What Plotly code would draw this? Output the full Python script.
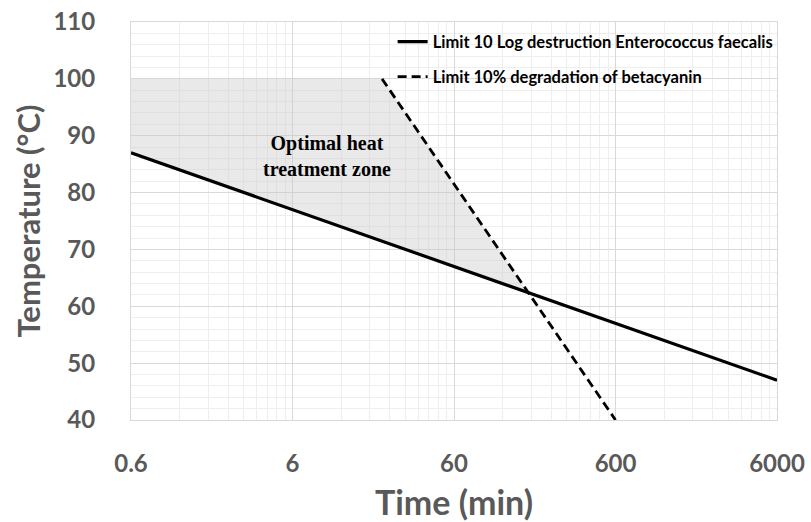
import numpy as np
import plotly.graph_objects as go

# Data
solid_time = [0.6, 6000]
solid_temp = [87, 47]
dash_time = [21.5, 600]
dash_temp = [100, 40]
zone_top = 100
x_ticks = [0.6, 6, 60, 600, 6000]
x_ticktext = ["0.6", "6", "60", "600", "6000"]
y_ticks = [40, 50, 60, 70, 80, 90, 100, 110]

# intersection of lines in log-x space
ls = np.log10(solid_time); ld = np.log10(dash_time)
ms = (solid_temp[1] - solid_temp[0]) / (ls[1] - ls[0])
md = (dash_temp[1] - dash_temp[0]) / (ld[1] - ld[0])
xi = (dash_temp[0] - solid_temp[0] + ms * ls[0] - md * ld[0]) / (ms - md)
ti = solid_temp[0] + ms * (xi - ls[0])
poly_x = [solid_time[0], dash_time[0], 10 ** xi, solid_time[0], solid_time[0]]
poly_y = [zone_top, dash_temp[0], ti, solid_temp[0], zone_top]

minor_x = [m * d for d in [0.6, 6, 60, 600] for m in range(2, 10)]
minor_y = list(range(42, 110, 2))

fig = go.Figure()
fig.add_trace(go.Scatter(x=poly_x, y=poly_y, fill="toself", mode="none",
                         fillcolor="rgba(200,200,200,0.4)", showlegend=False, hoverinfo="skip"))
fig.add_trace(go.Scatter(x=solid_time, y=solid_temp, mode="lines",
                         line=dict(color="black", width=3.2),
                         name="Limit 10 Log destruction Enterococcus faecalis", legend="legend"))
fig.add_trace(go.Scatter(x=dash_time, y=dash_temp, mode="lines",
                         line=dict(color="black", width=2.8, dash="9px,5px"),
                         name="Limit 10% degradation of betacyanin", legend="legend2"))

fig.add_annotation(x=np.log10(9.8), y=86.4, xref="x", yref="y",
                   text="<b>Optimal heat<br>treatment zone</b>", showarrow=False,
                   font=dict(family="Liberation Serif", size=20, color="black"))

tickfont = dict(family="Lato", size=24, color="#595959", weight="bold")
fig.update_xaxes(type="log", range=[np.log10(0.6), np.log10(6000)], automargin=False,
                 tickvals=x_ticks, ticktext=x_ticktext, tickfont=tickfont,
                 showgrid=True, gridcolor="#d9d9d9", gridwidth=1,
                 minor=dict(tickvals=minor_x, showgrid=True, gridcolor="#eeeeee", gridwidth=1),
                 showline=True, linecolor="#d9d9d9", mirror=True,
                 zeroline=False, ticks="", ticklabelstandoff=22,
                 title=dict(text="Time (min)", font=dict(family="Lato", size=34, color="#595959", weight="bold"), standoff=19))
fig.update_yaxes(range=[40, 110], tickvals=y_ticks, tickfont=tickfont, automargin=False,
                 showgrid=True, gridcolor="#d9d9d9", gridwidth=1,
                 minor=dict(tickvals=minor_y, showgrid=True, gridcolor="#eeeeee", gridwidth=1),
                 showline=True, linecolor="#d9d9d9", mirror=True,
                 zeroline=False, ticks="", ticklabelstandoff=30,
                 title=dict(text="Temperature (°C)", font=dict(family="Lato", size=31, color="#595959", weight="bold"), standoff=3))

legfont = dict(family="Lato", size=16.5, color="black", weight="bold")
fig.update_layout(
    width=811, height=522,
    margin=dict(l=131, r=34, t=22, b=102, autoexpand=False),
    plot_bgcolor="white", paper_bgcolor="white",
    legend=dict(x=0.405, y=0.95, xanchor="left", yanchor="middle", bgcolor="rgba(0,0,0,0)",
                font=legfont, itemwidth=30),
    legend2=dict(x=0.405, y=0.862, xanchor="left", yanchor="middle", bgcolor="rgba(0,0,0,0)",
                 font=legfont, itemwidth=30),
)
fig.write_html("out.html")
